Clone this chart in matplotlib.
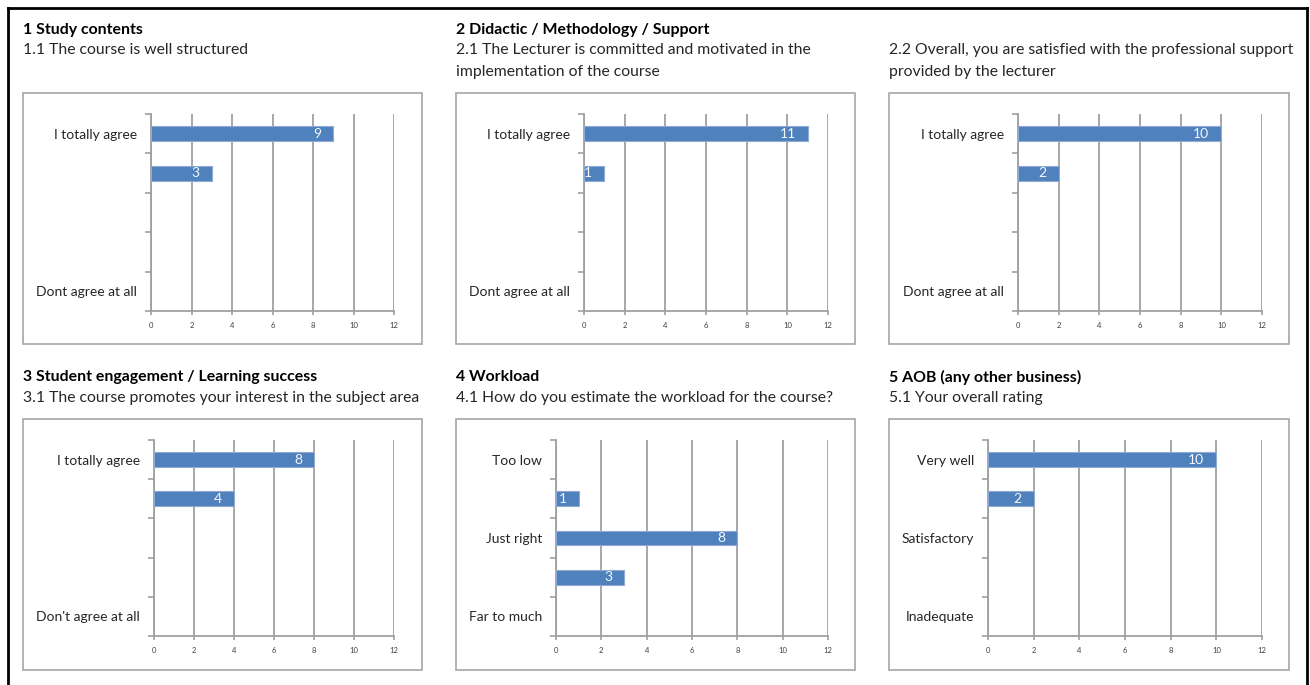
import matplotlib.pyplot as plt
from matplotlib.patches import Rectangle
from matplotlib.lines import Line2D

plt.rcParams['font.family'] = ['Lato', 'DejaVu Sans']

# Datos de cada panel (categorias de arriba hacia abajo)
headings = ["1 Study contents", "2 Didactic / Methodology / Support", "",
            "3 Student engagement / Learning success", "4 Workload",
            "5 AOB (any other business)"]
questions = [
    ["1.1 The course is well structured"],
    ["2.1 The Lecturer is committed and motivated in the", "implementation of the course"],
    ["2.2 Overall, you are satisfied with the professional support", "provided by the lecturer"],
    ["3.1 The course promotes your interest in the subject area"],
    ["4.1 How do you estimate the workload for the course?"],
    ["5.1 Your overall rating"],
]
cats_agree = ["I totally agree", "", "", "", "Dont agree at all"]
cats_agree2 = ["I totally agree", "", "", "", "Don't agree at all"]
cats_workload = ["Too low", "", "Just right", "", "Far to much"]
cats_rating = ["Very well", "", "Satisfactory", "", "Inadequate"]
categories = [cats_agree, cats_agree, cats_agree, cats_agree2, cats_workload, cats_rating]

counts_1_1 = [9, 3, 0, 0, 0]
counts_2_1 = [11, 1, 0, 0, 0]
counts_2_2 = [10, 2, 0, 0, 0]
counts_3_1 = [8, 4, 0, 0, 0]
counts_4_1 = [0, 1, 8, 3, 0]
counts_5_1 = [10, 2, 0, 0, 0]
counts = [counts_1_1, counts_2_1, counts_2_2, counts_3_1, counts_4_1, counts_5_1]

x_ticks = [0, 2, 4, 6, 8, 10, 12]

W, H = 1310, 685
fig = plt.figure(figsize=(W / 100, H / 100), dpi=100)

BAR = '#4F81BD'
GRID = '#a0a0a0'
TXT = '#262626'

# Layout en pixeles
box_x = [(23, 422), (456, 855), (889, 1289)]
box_y = [(93, 344), (419, 670)]
axes_px = [(151, 394, 114, 311), (584, 828, 114, 311), (1018, 1262, 114, 311),
           (154, 394, 440, 636), (556, 828, 440, 636), (988, 1262, 440, 636)]


def fx(px):
    return px / W


def fy(py):
    return 1 - py / H


# borde exterior
for xs, ys in [((8, 8), (8, H)), ((1307, 1307), (8, H)), ((8, 1307), (8, 8))]:
    fig.add_artist(Line2D([fx(x) for x in xs], [fy(y) for y in ys], color='black', lw=2))

for i in range(6):
    row, col = divmod(i, 3)
    bx0, bx1 = box_x[col]
    by0, by1 = box_y[row]
    fig.add_artist(Rectangle((fx(bx0), fy(by1)), fx(bx1) - fx(bx0), fy(by0) - fy(by1),
                             fill=False, edgecolor='#a6a6a6', lw=1.2))

    # textos del encabezado
    if row == 0:
        y_head, y_q = 30, 50
    else:
        y_head, y_q = 377, 398
    if headings[i]:
        fig.text(fx(bx0), fy(y_head), headings[i], fontsize=11.4, fontweight='bold',
                 color='black', va='center', ha='left')
    for k, line in enumerate(questions[i]):
        fig.text(fx(bx0), fy(y_q + 22 * k), line, fontsize=11.3, color=TXT,
                 va='center', ha='left')

    x0, x1, yt, yb = axes_px[i]
    ax = fig.add_axes([fx(x0), fy(yb), fx(x1) - fx(x0), fy(yt) - fy(yb)])
    ypos = [k + 0.5 for k in range(5)]
    ax.barh(ypos, counts[i], height=0.38, color=BAR, edgecolor='#8eaad3',
            linewidth=[0.8 if v else 0 for v in counts[i]], zorder=3)
    for y, v in zip(ypos, counts[i]):
        if v > 0:
            ax.annotate(str(v), (v, y), xytext=(-12, 0), textcoords='offset pixels',
                        ha='right', va='center', color='#f4f7fb', fontsize=10, zorder=4)
    ax.set_xlim(0, 12)
    ax.set_ylim(5, 0)
    ax.set_xticks(x_ticks)
    ax.set_xticklabels([str(t) for t in x_ticks], fontsize=5.5, color='#404040')
    ax.set_yticks(ypos)
    ax.set_yticklabels(categories[i], fontsize=10, color=TXT)
    ax.set_yticks(range(6), minor=True)
    ax.tick_params(axis='y', which='major', length=0, pad=10)
    ax.tick_params(axis='y', which='minor', length=4, color=GRID, width=1.2)
    ax.tick_params(axis='x', length=3, color=GRID, width=1.2, pad=5)
    ax.grid(axis='x', color=GRID, lw=1.3, zorder=1)
    for s in ['top', 'right']:
        ax.spines[s].set_visible(False)
    for s in ['left', 'bottom']:
        ax.spines[s].set_color(GRID)
        ax.spines[s].set_linewidth(1.3)
    ax.set_facecolor('none')

fig.savefig('out.png', dpi=100)
